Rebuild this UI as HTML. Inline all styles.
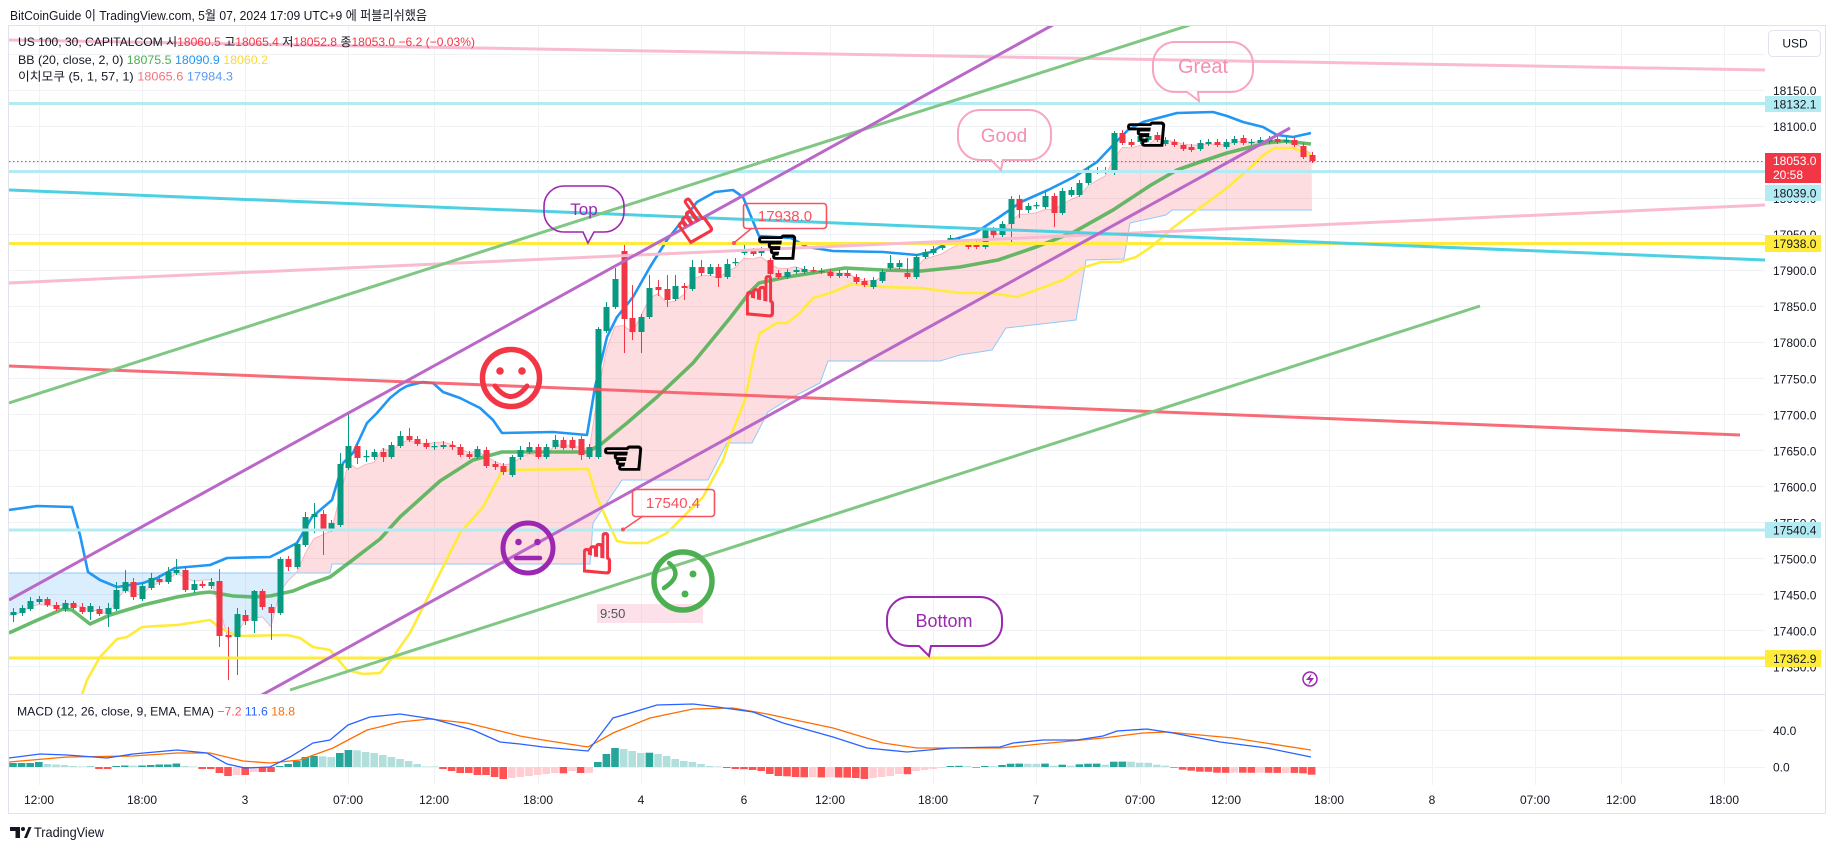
<!DOCTYPE html>
<html lang="ko"><head><meta charset="utf-8"><title>US 100 chart</title>
<style>
html,body{margin:0;padding:0;background:#fff;width:1835px;height:849px;overflow:hidden}
svg{display:block}
text{font-family:"Liberation Sans","Noto Sans CJK KR",sans-serif;fill:#131722}
.ax{font-size:12px}
.hand{font-family:"DejaVu Sans",sans-serif}
</style></head><body>
<svg width="1835" height="849" viewBox="0 0 1835 849" xmlns="http://www.w3.org/2000/svg">
<defs>
<clipPath id="cm"><rect x="9" y="26" width="1756" height="668"/></clipPath>
<clipPath id="cd"><rect x="9" y="695" width="1756" height="90"/></clipPath>
<clipPath id="ab"><polygon points="9,573 330,573 332,564 590,564 593,523 622,480 708,480 727,443 752,443 768,412 787,400 820,383 828,361 940,361 960,355 992,350 1006,328 1076,320 1086,260 1124,259 1130,223 1166,215 1172,210 1312,210 1312,26 9,26"/></clipPath>
<clipPath id="be"><polygon points="9,573 330,573 332,564 590,564 593,523 622,480 708,480 727,443 752,443 768,412 787,400 820,383 828,361 940,361 960,355 992,350 1006,328 1076,320 1086,260 1124,259 1130,223 1166,215 1172,210 1312,210 1312,700 9,700"/></clipPath>
</defs>
<rect width="1835" height="849" fill="#fff"/>
<!-- header -->
<text x="10" y="20" font-size="13" textLength="417" lengthAdjust="spacingAndGlyphs">BitCoinGuide 이 TradingView.com, 5월 07, 2024 17:09 UTC+9 에 퍼블리쉬했음</text>
<!-- frame -->
<rect x="8.5" y="25.5" width="1817" height="788" fill="none" stroke="#E0E3EB"/>
<!-- grid -->
<path d="M39.5,26V785M142.5,26V785M245.5,26V785M348.5,26V785M434.5,26V785M538.5,26V785M641.5,26V785M744.5,26V785M830.5,26V785M933.5,26V785M1036.5,26V785M1140.5,26V785M1226.5,26V785M1329.5,26V785M1432.5,26V785M1535.5,26V785M1621.5,26V785M1724.5,26V785" stroke="#F0F2F6" stroke-width="1"/>
<path d="M9,54.5H1765M9,90.5H1765M9,126.5H1765M9,162.5H1765M9,198.5H1765M9,234.5H1765M9,270.5H1765M9,306.5H1765M9,342.5H1765M9,378.5H1765M9,414.5H1765M9,450.5H1765M9,486.5H1765M9,522.5H1765M9,558.5H1765M9,594.5H1765M9,630.5H1765M9,666.5H1765M9,730.5H1765M9,767.5H1765" stroke="#F0F2F6" stroke-width="1"/>
<line x1="9" y1="694.5" x2="1825" y2="694.5" stroke="#E0E3EB"/>

<g clip-path="url(#cm)">
<g id="cloud"></g>
<!-- Bollinger bands -->
<polyline fill="none" stroke="#FFEB3B" stroke-width="2.6" stroke-linejoin="round" points="40,760 70,718 82,695 87,680 100,657 117,639 127,637 142,627 157,626 177,625 210,620 220,628 233,634 243,636 287,635 300,638 313,647 330,650 347,670 363,674 380,673 393,657 410,633 420,613 440,573 460,533 483,507 500,475 503,470 588,469 597,497 607,520 617,541 627,543 647,543 667,533 680,520 703,497 723,460 733,430 745,400 755,350 760,333 777,323 787,323 800,313 813,298 830,293 852,284 883,287 921,288 960,293 990,293 1017,297 1036,290 1063,280 1082,268 1101,262 1120,262 1136,257 1151,247 1174,227 1197,210 1227,188 1250,168 1266,153 1275,148 1293,148 1311,155"/>
<polyline fill="none" stroke="#4CAF50" stroke-opacity="0.85" stroke-width="3.6" stroke-linejoin="round" points="9,633 33,622 63,609 72,610 90,624 110,615 143,605 177,597 200,593 210,592 233,596 253,597 270,596 293,591 310,584 330,577 350,562 380,539 400,517 420,499 440,481 473,460 502,452 587,452 600,445 627,423 657,397 693,363 730,318 750,292 759,283 787,277 845,268 883,270 921,271 960,267 998,260 1036,247 1074,232 1113,210 1151,185 1177,170 1200,162 1227,153 1266,143 1285,141 1311,144"/>
<polyline fill="none" stroke="#2196F3" stroke-width="2.6" stroke-linejoin="round" points="9,510 37,506 72,507 80,535 88,572 100,580 117,587 143,583 157,578 175,568 210,565 227,558 270,557 280,552 297,543 312,517 332,500 343,463 353,453 367,423 377,413 390,398 400,390 407,386 423,382 433,383 443,392 460,398 480,408 493,420 502,433 553,432 587,435 595,387 607,337 617,317 633,297 650,267 667,240 697,202 715,192 733,190 743,197 759,236 791,238 807,247 833,251 883,252 917,255 931,252 952,240 975,233 998,218 1021,202 1048,190 1074,177 1097,162 1113,145 1128,130 1143,122 1177,113 1213,112 1227,116 1243,122 1263,127 1277,135 1293,137 1311,133"/>
<g id="candles"></g>
<!-- price line -->
<line x1="9" y1="161.5" x2="1765" y2="161.5" stroke="#F23645" stroke-width="1" stroke-dasharray="1.5,2.5"/>
<!-- horizontal drawings -->
<line x1="9" y1="103.5" x2="1765" y2="103.5" stroke="#B2EBF2" stroke-width="3"/>
<line x1="9" y1="171.5" x2="1765" y2="171.5" stroke="#B2EBF2" stroke-width="3"/>
<line x1="9" y1="243.5" x2="1765" y2="243.5" stroke="#FFEB3B" stroke-width="3"/>
<line x1="9" y1="530" x2="1765" y2="530" stroke="#B2EBF2" stroke-width="3"/>
<line x1="9" y1="658" x2="1765" y2="658" stroke="#FFEB3B" stroke-width="3"/>
<!-- trend lines -->
<line x1="8" y1="40" x2="1765" y2="70" stroke="#F8BBD0" stroke-width="3"/>
<line x1="8" y1="283" x2="1765" y2="205" stroke="#F8BBD0" stroke-width="3"/>
<line x1="8" y1="190" x2="1765" y2="260" stroke="#4DD0E1" stroke-width="3"/>
<line x1="9" y1="366" x2="1740" y2="435" stroke="#F7525F" stroke-opacity="0.85" stroke-width="3"/>
<line x1="9" y1="403" x2="1190" y2="25" stroke="#81C784" stroke-width="3"/>
<line x1="290" y1="690" x2="1480" y2="306" stroke="#81C784" stroke-width="3"/>
<line x1="9" y1="600" x2="1060" y2="21" stroke="#BA68C8" stroke-width="3"/>
<line x1="260" y1="696" x2="1290" y2="128" stroke="#BA68C8" stroke-width="3"/>

<!-- bubbles -->
<path d="M564,186 H604 A20,20 0 0 1 624,206 V212 A20,20 0 0 1 604,232 H594 L588,243 L583,232 H564 A20,20 0 0 1 544,212 V206 A20,20 0 0 1 564,186 Z" fill="none" stroke="#9C27B0" stroke-width="1.6"/>
<text x="584" y="215" font-size="17" text-anchor="middle" style="fill:#9C27B0">Top</text>
<path d="M980,110 H1029 A22,22 0 0 1 1051,132 V138 A22,22 0 0 1 1029,160 H1003 L1001,170 L991,160 H980 A22,22 0 0 1 958,138 V132 A22,22 0 0 1 980,110 Z" fill="none" stroke="#F8A5C2" stroke-width="2"/>
<text x="1004" y="142" font-size="19" text-anchor="middle" style="fill:#F48FB1">Good</text>
<path d="M1175,42 H1231 A22,22 0 0 1 1253,64 V70 A22,22 0 0 1 1231,92 H1198 L1199,101 L1187,92 H1175 A22,22 0 0 1 1153,70 V64 A22,22 0 0 1 1175,42 Z" fill="none" stroke="#F8A5C2" stroke-width="2"/>
<text x="1203" y="73" font-size="20" text-anchor="middle" style="fill:#F48FB1">Great</text>
<path d="M909,597 H980 A22,22 0 0 1 1002,619 V624 A22,22 0 0 1 980,646 H931 L929,656 L919,646 H909 A22,22 0 0 1 887,624 V619 A22,22 0 0 1 909,597 Z" fill="none" stroke="#9C27B0" stroke-width="2"/>
<text x="944" y="627" font-size="18" text-anchor="middle" style="fill:#9C27B0">Bottom</text>

<!-- price callouts -->
<rect x="743.5" y="203.5" width="83" height="25" rx="3" fill="none" stroke="#F7525F" stroke-width="1.6"/>
<text x="785" y="221" font-size="15" text-anchor="middle" style="fill:#F7525F">17938.0</text>
<line x1="752" y1="228" x2="735" y2="242" stroke="#F7525F" stroke-width="1.5"/>
<circle cx="734" cy="243" r="2" fill="#F7525F"/>
<rect x="632.5" y="489.5" width="82" height="27" rx="3" fill="none" stroke="#F7525F" stroke-width="1.6"/>
<text x="673" y="508" font-size="15" text-anchor="middle" style="fill:#F7525F">17540.4</text>
<line x1="643" y1="516" x2="624" y2="529" stroke="#F7525F" stroke-width="1.5"/>
<circle cx="623" cy="529.5" r="2" fill="#F7525F"/>

<!-- 9:50 box -->
<rect x="597" y="604" width="106" height="19" fill="#F8BBD0" fill-opacity="0.45"/>
<text x="600" y="618" font-size="13" style="fill:#50535E">9:50</text>

<!-- faces -->
<circle cx="511" cy="378" r="28.5" fill="none" stroke="#F23645" stroke-width="5.5"/>
<circle cx="500" cy="371" r="3.8" fill="#F23645"/>
<circle cx="522" cy="371" r="3.8" fill="#F23645"/>
<path d="M495,386 Q511,407 527,386" fill="none" stroke="#F23645" stroke-width="5" stroke-linecap="round"/>
<circle cx="528" cy="548" r="25" fill="none" stroke="#9C27B0" stroke-width="5"/>
<circle cx="518.5" cy="542" r="3.3" fill="#9C27B0"/>
<circle cx="537.5" cy="542" r="3.3" fill="#9C27B0"/>
<line x1="516" y1="558" x2="540" y2="558" stroke="#9C27B0" stroke-width="4.5" stroke-linecap="round"/>
<circle cx="683" cy="581" r="29" fill="none" stroke="#4CAF50" stroke-width="5.5"/>
<path d="M669,563 Q684,575 664,588" fill="none" stroke="#4CAF50" stroke-width="4.5" stroke-linecap="round"/>
<circle cx="693" cy="574" r="3.5" fill="#4CAF50"/>
<circle cx="685" cy="594" r="3.5" fill="#4CAF50"/>

<!-- hands -->
<text class="hand" x="623" y="458" font-size="50" text-anchor="middle" dominant-baseline="central" style="fill:#000;stroke:#000;stroke-width:2">☜</text>
<text class="hand" x="777" y="247" font-size="50" text-anchor="middle" dominant-baseline="central" style="fill:#000;stroke:#000;stroke-width:2">☜</text>
<text class="hand" x="1146" y="134" font-size="50" text-anchor="middle" dominant-baseline="central" style="fill:#000;stroke:#000;stroke-width:2">☜</text>
<text class="hand" x="692" y="222" font-size="56" text-anchor="middle" dominant-baseline="central" transform="rotate(-35 692 222)" style="fill:#F23645;stroke:#F23645;stroke-width:2">☝</text>
<text class="hand" x="760" y="298" font-size="56" text-anchor="middle" dominant-baseline="central" style="fill:#F23645;stroke:#F23645;stroke-width:2">☝</text>
<text class="hand" x="597" y="555" font-size="56" text-anchor="middle" dominant-baseline="central" style="fill:#F23645;stroke:#F23645;stroke-width:2">☝</text>

<!-- lightning -->
<circle cx="1310" cy="679" r="7" fill="#fff" stroke="#9C27B0" stroke-width="1.5"/>
<polygon points="1312,673 1306,680 1310,680 1308,685.5 1314,678 1310,678" fill="#9C27B0"/>
</g>

<!-- legends -->
<text y="46" font-size="12" textLength="457" lengthAdjust="spacingAndGlyphs" x="18">US 100, 30, CAPITALCOM  시<tspan style="fill:#F23645">18060.5</tspan>  고<tspan style="fill:#F23645">18065.4</tspan>  저<tspan style="fill:#F23645">18052.8</tspan>  종<tspan style="fill:#F23645">18053.0</tspan>  <tspan style="fill:#F23645">−6.2 (−0.03%)</tspan></text>
<text x="18" y="64" font-size="12" textLength="250" lengthAdjust="spacingAndGlyphs">BB (20, close, 2, 0)  <tspan style="fill:#4CAF50">18075.5</tspan>  <tspan style="fill:#2196F3">18090.9</tspan>  <tspan style="fill:#FDD835">18060.2</tspan></text>
<text x="18" y="80.5" font-size="12" textLength="215" lengthAdjust="spacingAndGlyphs">이치모쿠 (5, 1, 57, 1)  <tspan style="fill:#F7737D">18065.6</tspan>  <tspan style="fill:#5B9CF6">17984.3</tspan></text>

<!-- MACD pane -->
<g clip-path="url(#cd)">
<g id="hist"></g>
<polyline fill="none" stroke="#FF6D00" stroke-width="1.3" points="9,762 67,757 133,756 177,753 210,753 243,761 270,763 300,760 333,748 367,730 400,722 430,719 467,723 500,731 520,736 543,740 588,747 613,733 650,718 693,709 733,708 767,714 833,728 883,743 917,748 967,748 1000,748 1050,743 1103,738 1143,733 1167,732 1233,738 1311,750"/>
<polyline fill="none" stroke="#2962FF" stroke-width="1.3" points="9,758 40,754 67,755 107,758 133,754 177,750 207,753 227,764 245,768 270,767 290,757 313,743 330,740 348,725 370,717 400,714 433,719 473,730 500,742 520,744 543,747 588,751 613,718 637,711 657,705 693,704 710,706 753,712 783,723 833,737 867,748 907,752 950,748 1000,747 1013,743 1043,740 1077,740 1103,736 1117,731 1147,729 1173,733 1220,742 1267,748 1311,757"/>
</g>
<text x="17" y="715.5" font-size="12" textLength="278" lengthAdjust="spacingAndGlyphs">MACD (12, 26, close, 9, EMA, EMA)  <tspan style="fill:#FF5252">−7.2</tspan>  <tspan style="fill:#2962FF">11.6</tspan>  <tspan style="fill:#FF6D00">18.8</tspan></text>

<!-- price axis -->
<rect x="1768.5" y="30.5" width="52" height="26" rx="4" fill="#fff" stroke="#E0E3EB"/>
<text x="1795" y="47.5" class="ax" text-anchor="middle">USD</text>
<g class="ax">
<text x="1773" y="94.8" font-size="12">18150.0</text>
<text x="1773" y="130.8" font-size="12">18100.0</text>
<text x="1773" y="166.9" font-size="12">18050.0</text>
<text x="1773" y="203" font-size="12">18000.0</text>
<text x="1773" y="239.1" font-size="12">17950.0</text>
<text x="1773" y="275.1" font-size="12">17900.0</text>
<text x="1773" y="311.2" font-size="12">17850.0</text>
<text x="1773" y="347.2" font-size="12">17800.0</text>
<text x="1773" y="383.3" font-size="12">17750.0</text>
<text x="1773" y="419.3" font-size="12">17700.0</text>
<text x="1773" y="455.4" font-size="12">17650.0</text>
<text x="1773" y="491.4" font-size="12">17600.0</text>
<text x="1773" y="527.5" font-size="12">17550.0</text>
<text x="1773" y="563.6" font-size="12">17500.0</text>
<text x="1773" y="599.6" font-size="12">17450.0</text>
<text x="1773" y="635.7" font-size="12">17400.0</text>
<text x="1773" y="671.7" font-size="12">17350.0</text>
<text x="1773" y="735" font-size="12">40.0</text>
<text x="1773" y="771.5" font-size="12">0.0</text>
</g>
<rect x="1765" y="96" width="56" height="16" fill="#B2EBF2"/>
<text x="1773" y="108.5" font-size="12">18132.1</text>
<rect x="1765" y="153" width="56" height="30" fill="#F23645"/>
<text x="1773" y="165" font-size="12" style="fill:#fff">18053.0</text>
<text x="1773" y="179" font-size="12" style="fill:#fff">20:58</text>
<rect x="1765" y="185" width="56" height="16" fill="#B2EBF2"/>
<text x="1773" y="197.5" font-size="12">18039.0</text>
<rect x="1765" y="235" width="56" height="17" fill="#FFEB3B"/>
<text x="1773" y="248" font-size="12">17938.0</text>
<rect x="1765" y="522" width="56" height="16" fill="#B2EBF2"/>
<text x="1773" y="534.5" font-size="12">17540.4</text>
<rect x="1765" y="650" width="56" height="17" fill="#FFEB3B"/>
<text x="1773" y="663" font-size="12">17362.9</text>

<!-- time axis -->
<g font-size="12" text-anchor="middle">
<text x="39" y="804">12:00</text>
<text x="142" y="804">18:00</text>
<text x="245" y="804">3</text>
<text x="348" y="804">07:00</text>
<text x="434" y="804">12:00</text>
<text x="538" y="804">18:00</text>
<text x="641" y="804">4</text>
<text x="744" y="804">6</text>
<text x="830" y="804">12:00</text>
<text x="933" y="804">18:00</text>
<text x="1036" y="804">7</text>
<text x="1140" y="804">07:00</text>
<text x="1226" y="804">12:00</text>
<text x="1329" y="804">18:00</text>
<text x="1432" y="804">8</text>
<text x="1535" y="804">07:00</text>
<text x="1621" y="804">12:00</text>
<text x="1724" y="804">18:00</text>
</g>

<!-- TradingView logo -->
<path d="M10,827 H20 V838 H15.5 V831 H10 Z" fill="#131722"/>
<circle cx="23" cy="829" r="2" fill="#131722"/>
<path d="M24,838 L28.5,827 H31.5 L27,838 Z" fill="#131722"/>
<text x="34" y="837" font-size="14" textLength="70" lengthAdjust="spacingAndGlyphs">TradingView</text>
</svg>
<script>
(function(){
var NS='http://www.w3.org/2000/svg';
function mk(p,t,a){var e=document.createElementNS(NS,t);for(var k in a)e.setAttribute(k,a[k]);p.appendChild(e);return e;}
var C=[
['g',612,615,608,622],['g',608,613,605,616],['g',601,609,597,611],['g',599,602,596,604],['r',599,605,597,607],
['r',605,609,602,611],['g',603,609,600,612],['r',603,608,601,610],['r',607,612,603,614],['g',606,612,603,620],
['r',609,614,606,616],['g',608,614,603,627],['g',590,609,582,611],['g',582,591,570,593],['r',582,597,578,600],
['g',586,599,583,601],['g',578,588,573,590],['r',579,582,575,585],['g',572,582,567,584],['g',570,573,559,575],
['r',570,590,566,592],['g',584,590,580,593],['r',584,586,581,588],['g',582,586,578,589],['r',581,636,569,647],
['r',635,637,627,680],['g',614,637,608,675],['r',615,621,610,625],['g',591,621,590,633],['r',591,607,589,610],
['r',607,613,604,640],['g',559,613,557,615],['r',559,567,556,571],['g',544,567,540,569],['g',517,545,512,547],
['g',514,517,503,533],['r',514,529,510,555],['g',523,529,520,532],['g',464,525,453,527],['g',446,468,413,470],
['r',446,458,443,464],['g',456,457,450,462],['g',452,457,449,460],['r',452,457,448,462],['g',445,457,442,459],
['g',436,446,431,448],['r',436,440,428,442],['r',439,444,436,446],['r',443,447,439,449],['g',446,447,442,450],
['g',445,447,441,449],['r',445,447,441,450],['r',447,455,444,457],['r',454,457,451,459],['g',449,457,446,459],
['r',450,466,447,468],['r',464,467,461,470],['r',466,472,463,475],['g',457,475,455,477],['g',450,457,446,460],
['g',447,452,442,454],['r',447,457,444,459],['g',447,457,444,459],['g',440,447,435,449],['r',440,448,437,450],
['r',440,448,437,450],['r',439,455,436,460],['g',447,457,444,459],['g',329,457,327,459],['g',307,331,302,333],
['g',279,307,268,309],['r',251,319,245,353],['r',318,332,285,340],['g',317,332,314,353],['g',288,317,275,319],
['r',287,290,280,296],['r',289,300,275,307],['g',286,299,275,301],['r',286,288,283,300],['g',267,289,260,291],
['r',267,273,260,276],['g',267,274,264,276],['r',267,278,264,287],['g',264,277,259,279],['g',262,263,258,266],
['g',250,253,245,255],['r',251,254,248,256],['g',250,253,247,256],['r',260,274,258,276],['r',273,277,270,279],
['g',272,277,269,279],['g',270,272,267,274],['g',269,272,266,274],['r',270,271,267,273],['r',271,272,268,274],
['r',272,276,269,278],['g',273,276,270,278],['r',273,276,270,278],['r',277,282,274,284],['r',281,285,278,287],
['g',280,287,277,289],['g',272,281,269,283],['g',263,268,255,270],['g',263,267,260,269],['r',273,277,258,279],
['g',257,277,254,279],['g',252,257,249,259],['g',249,253,246,255],['g',246,248,243,250],['g',238,240,235,245],
['g',240,243,237,245],['r',242,247,239,249],['r',244,247,241,249],['g',230,247,227,249],['r',230,235,227,238],
['g',224,235,221,237],['g',199,224,196,245],['r',199,210,195,218],['g',206,210,203,213],['g',205,206,202,209],
['g',196,207,192,209],['r',196,213,193,227],['g',191,213,188,215],['g',190,195,187,197],['g',183,195,180,197],
['g',173,183,166,185],['g',170,171,167,174],['r',170,172,167,174],['g',133,173,131,175],['r',133,143,130,145],
['r',142,145,139,147],['g',136,142,133,144],['g',136,140,133,142],['r',135,140,132,142],['g',140,144,137,146],
['r',142,145,139,147],['r',145,149,142,151],['r',147,150,144,152],['g',143,149,140,151],['g',142,144,139,146],
['r',142,145,139,147],['g',142,147,139,149],['g',139,143,136,145],['r',138,143,135,145],['g',142,143,139,145],
['g',140,143,137,145],['g',139,142,136,144],['r',139,142,136,144],['g',140,142,137,144],['r',140,145,137,147],
['r',146,157,143,159],['r',155,161,152,163]
];
function X(i){return 13+i*8.6;}
var spanB="9,573 330,573 332,564 590,564 593,523 622,480 708,480 727,443 752,443 768,412 787,400 820,383 828,361 940,361 960,355 992,350 1006,328 1076,320 1086,260 1124,259 1130,223 1166,215 1172,210 1312,210";
var A=[];
for(var i=0;i<C.length;i++){
  var hi=1e9,lo=-1e9;
  for(var k=Math.max(0,i-4);k<=i;k++){hi=Math.min(hi,C[k][3]);lo=Math.max(lo,C[k][4]);}
  A.push(((hi+lo)/2+(C[i][3]+C[i][4])/2)/2);
}
var ap=['9,'+A[0].toFixed(1)];
for(var i=0;i<A.length;i++)ap.push(X(i).toFixed(1)+','+A[i].toFixed(1));
var bp=spanB.split(' ').reverse();
var poly=ap.concat(bp).join(' ');
var cl=document.getElementById('cloud');
mk(cl,'polygon',{points:poly,fill:'rgba(33,150,243,0.16)','clip-path':'url(#be)'});
mk(cl,'polygon',{points:poly,fill:'rgba(242,54,69,0.17)','clip-path':'url(#ab)'});
mk(cl,'polyline',{points:ap.join(' '),fill:'none',stroke:'rgba(242,54,69,0.3)','stroke-width':'1'});
mk(cl,'polyline',{points:spanB,fill:'none',stroke:'#90CAF9','stroke-width':'1'});
var wg='',wr='',bg='',br='';
for(var i=0;i<C.length;i++){
  var c=C[i],x=Math.round(X(i));
  var top=c[1],bot=Math.max(c[2],c[1]+1.2);
  var w='M'+(x+0.5)+','+c[3]+'V'+c[4];
  var b='M'+(x-2.5)+','+top+'h6V'+bot+'h-6Z';
  if(c[0]=='g'){wg+=w;bg+=b;}else{wr+=w;br+=b;}
}
var cg=document.getElementById('candles');
mk(cg,'path',{d:wg,stroke:'#089981','stroke-width':'1',fill:'none'});
mk(cg,'path',{d:wr,stroke:'#F23645','stroke-width':'1',fill:'none'});
mk(cg,'path',{d:bg,fill:'#089981'});
mk(cg,'path',{d:br,fill:'#F23645'});
var H=[4,4,4,5,3,2.5,2,1,0.5,0.5,
-2,-2,1,1.5,1.3,1.5,2,2.5,2.5,3.5,
1,0.5,-2,-2,-6,-9,-8,-8,-5,-5,
-5,1,3,6,10,11,10.7,10,14,17,
16.7,15,14,12,10,8,6,3,0.5,0,
-2,-4,-6,-6,-8,-8,-10,-12,-11,-10,
-9,-8,-7,-6,-6.3,-4,-6,-5.7,5,13,
19,18,16,14,14.3,13,11,8,6,5,
3,1,0.3,-1,-2,-2.2,-3,-4,-7,-9,
-9.3,-10,-10.3,-10.1,-10.4,-10.2,-10.5,-10.6,-11,-12,
-11,-10,-9,-7,-7.2,-4,-3,-2,-1,1,
1.2,0.9,-0.7,1,0.8,2,3.3,3.4,3.3,3.2,
3.4,1.3,2.3,1.3,2.7,3.3,3.4,2.3,5.3,5.4,
5.3,4.3,4.2,2.3,1.3,-0.7,-2.7,-3.7,-4.7,-4.8,
-5.7,-5.8,-5.6,-5.7,-5.8,-5.7,-5.8,-5.9,-5.8,-5.9,
-6.3,-7.7];
var hg=document.getElementById('hist');
for(var i=0;i<H.length;i++){
  var v=H[i],p=i>0?H[i-1]:v,col;
  if(v>=0)col=(v>=p)?'#26A69A':'#B2DFDB';else col=(v<=p)?'#FF5252':'#FFCDD2';
  var x=X(i)-3.8;
  if(Math.abs(v)<0.4)v=v>=0?0.6:-0.6;
  if(v>=0)mk(hg,'rect',{x:x.toFixed(1),y:(767-v).toFixed(1),width:'7.6',height:v.toFixed(1),fill:col});
  else mk(hg,'rect',{x:x.toFixed(1),y:'767',width:'7.6',height:(-v).toFixed(1),fill:col});
}
})();
</script>
</body></html>
